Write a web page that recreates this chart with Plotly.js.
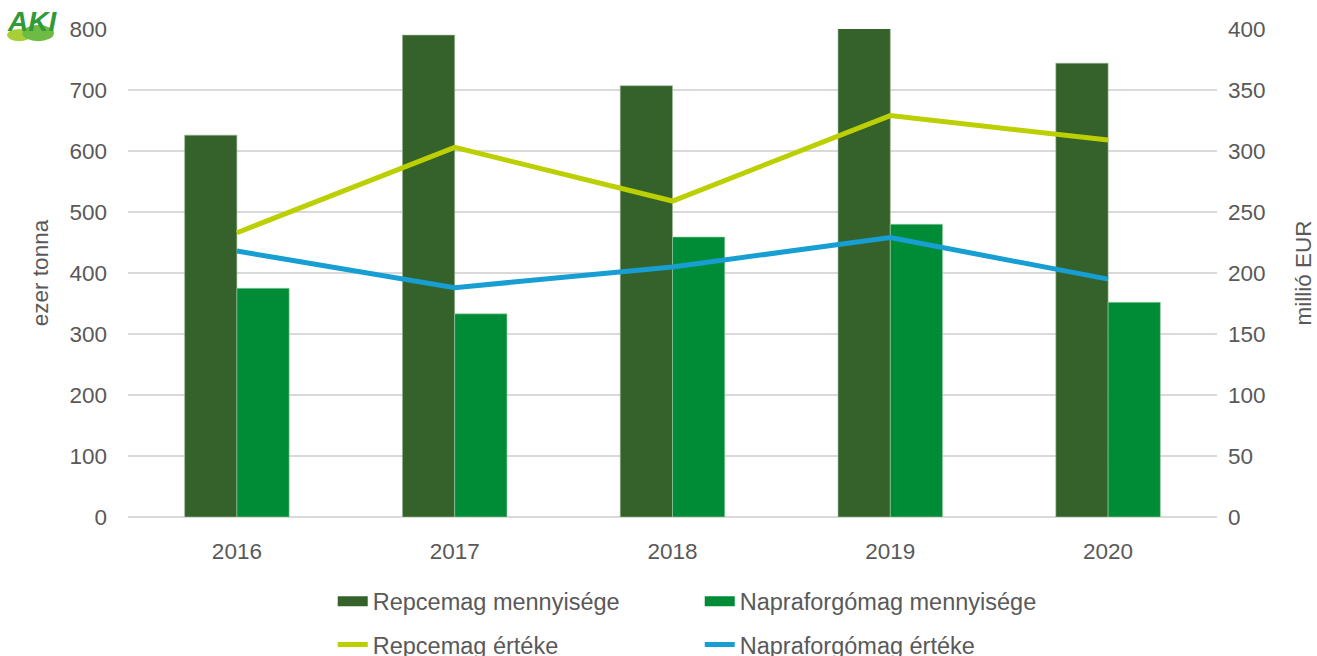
<!DOCTYPE html>
<html>
<head>
<meta charset="utf-8">
<script src="https://cdn.plot.ly/plotly-3.0.1.min.js"></script>
<style>
  html, body { margin: 0; padding: 0; background: #fff; }
  #chart { width: 1317px; height: 656px; }
</style>
</head>
<body>
<div id="chart"></div>
<script>
// years and values
var years = ['2016', '2017', '2018', '2019', '2020'];
var repceMenny = [626, 790, 707, 802, 744];     // ezer tonna
var napraMenny = [375, 333, 459, 480, 352];     // ezer tonna
var repceErtek = [233, 303, 259, 329, 309];     // millió EUR
var napraErtek = [218, 188, 205, 229, 195];     // millió EUR

var GREY = '#595959', GRID = '#d9d9d9';
var FAM = 'Liberation Sans, Arial, sans-serif';
var TICK = { family: FAM, size: 22.5, color: GREY };
var DARK = '#35622b', LIGHT = '#008b37';

var traces = [
  { type: 'bar', x: years, y: repceMenny, name: 'Repcemag mennyisége', showlegend: false,
    marker: { color: DARK, line: { color: '#9fb89a', width: 0.6 } } },
  { type: 'bar', x: years, y: napraMenny, name: 'Napraforgómag mennyisége', showlegend: false,
    marker: { color: LIGHT, line: { color: '#9fd0a8', width: 0.6 } } },
  { type: 'scatter', mode: 'lines', x: years, y: repceErtek, yaxis: 'y2', name: 'Repcemag értéke',
    line: { color: '#bccf00', width: 5 }, legend: 'legend2' },
  { type: 'scatter', mode: 'lines', x: years, y: napraErtek, yaxis: 'y2', name: 'Napraforgómag értéke',
    line: { color: '#179ed2', width: 5 }, legend: 'legend2' },
  // legend-only keys drawn as wide blocks, like the original's bar keys
  { type: 'scatter', mode: 'lines', x: [null], y: [null], name: 'Repcemag mennyisége',
    line: { color: DARK, width: 14 }, legend: 'legend', hoverinfo: 'skip' },
  { type: 'scatter', mode: 'lines', x: [null], y: [null], name: 'Napraforgómag mennyisége',
    line: { color: LIGHT, width: 14 }, legend: 'legend', hoverinfo: 'skip' }
];

var legendBase = {
  orientation: 'h', xanchor: 'left', yanchor: 'middle', xref: 'paper', yref: 'container',
  font: { family: FAM, size: 23.5, color: GREY },
  entrywidth: 322, entrywidthmode: 'pixels', itemwidth: 30,
  bgcolor: 'rgba(0,0,0,0)'
};

var layout = {
  width: 1317, height: 656,
  margin: { l: 128, r: 100, t: 29, b: 139 },
  paper_bgcolor: '#fff', plot_bgcolor: '#fff',
  font: TICK,
  barmode: 'group', bargap: 0.52, bargroupgap: 0,
  showlegend: true,
  legend: Object.assign({}, legendBase, { x: 0.188, y: 0.083 }),
  legend2: Object.assign({}, legendBase, { x: 0.188, y: 0.017 }),
  xaxis: {
    type: 'category', tickfont: TICK, showgrid: false, ticks: '',
    showline: false, zeroline: false, ticklabelstandoff: 18
  },
  yaxis: {
    range: [0, 800], dtick: 100, tickfont: TICK,
    gridcolor: GRID, gridwidth: 1.5, zeroline: true, zerolinecolor: GRID, zerolinewidth: 1.5,
    title: { text: 'ezer tonna', font: { family: FAM, size: 22.5, color: GREY }, standoff: 14 },
    ticklabelstandoff: 20
  },
  yaxis2: {
    overlaying: 'y', side: 'right', range: [0, 400], dtick: 50, tickfont: TICK,
    showgrid: false, zeroline: false,
    title: { text: 'millió EUR', font: { family: FAM, size: 22.5, color: GREY }, standoff: 30 },
    ticklabelstandoff: 10
  },
  // small AKI mark in the top-left corner
  shapes: [
    { type: 'circle', xref: 'paper', yref: 'paper', x0: -0.111, x1: -0.089, y0: 0.975, y1: 1.0,
      fillcolor: '#a9cf38', line: { width: 0 } },
    { type: 'circle', xref: 'paper', yref: 'paper', x0: -0.097, x1: -0.068, y0: 0.975, y1: 1.008,
      fillcolor: '#6dbb45', line: { width: 0 } }
  ],
  annotations: [
    { xref: 'paper', yref: 'paper', x: -0.113, y: 1.016, xanchor: 'left', yanchor: 'middle',
      text: '<b><i>AKI</i></b>', showarrow: false,
      font: { family: FAM, size: 28, color: '#2f9a37' } }
  ]
};

Plotly.newPlot('chart', traces, layout, { staticPlot: true, displayModeBar: false });
</script>
</body>
</html>
